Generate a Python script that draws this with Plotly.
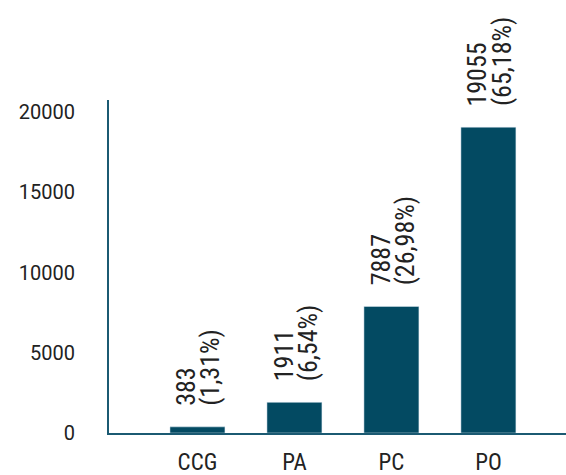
import plotly.graph_objects as go

categories = ["CCG", "PA", "PC", "PO"]
values = [383, 1911, 7887, 19055]
percents = ["1,31%", "6,54%", "26,98%", "65,18%"]
y_ticks = [0, 5000, 10000, 15000, 20000]
y_tick_labels = ["0", "5000", "10000", "15000", "20000"]

bar_color = "#034a62"
axis_color = "#1b5a72"
text_color = "#222222"
label_font = "Liberation Sans Narrow, Roboto Condensed, DejaVu Sans Condensed, sans-serif"

fig = go.Figure()
fig.add_trace(go.Bar(
    x=categories, y=values, marker_color=bar_color, width=0.567,
    hoverinfo="skip", showlegend=False,
))

for c, v, p in zip(categories, values, percents):
    for txt, dx in ((str(v), -11), (f"({p})", 13)):
        fig.add_annotation(
            x=c, y=v, xref="x", yref="y",
            text=txt, textangle=-90, showarrow=False,
            xanchor="center", yanchor="bottom", yshift=19, xshift=dx,
            font=dict(family=label_font, size=26, color=text_color),
        )

fig.update_layout(
    width=566, height=475,
    margin=dict(l=109, r=0, t=100, b=42, autoexpand=False),
    paper_bgcolor="white", plot_bgcolor="white",
    xaxis=dict(
        range=[-0.912, 3.8], showline=True, linecolor=axis_color, linewidth=2,
        showgrid=False, ticks="", ticklabelstandoff=7, automargin=False,
        tickfont=dict(family=label_font, size=23, color=text_color),
    ),
    yaxis=dict(
        range=[0, 20748], showline=True, linecolor=axis_color, linewidth=2,
        showgrid=False, zeroline=False, ticks="", tickvals=y_ticks,
        ticktext=y_tick_labels, ticklabelstandoff=28, automargin=False,
        tickfont=dict(family="Roboto, sans-serif", size=20, color=text_color),
    ),
)

fig.write_html(
    "out.html",
    config={"displayModeBar": False},
    post_script="document.body.style.margin='0';document.body.style.overflow='hidden';",
)
